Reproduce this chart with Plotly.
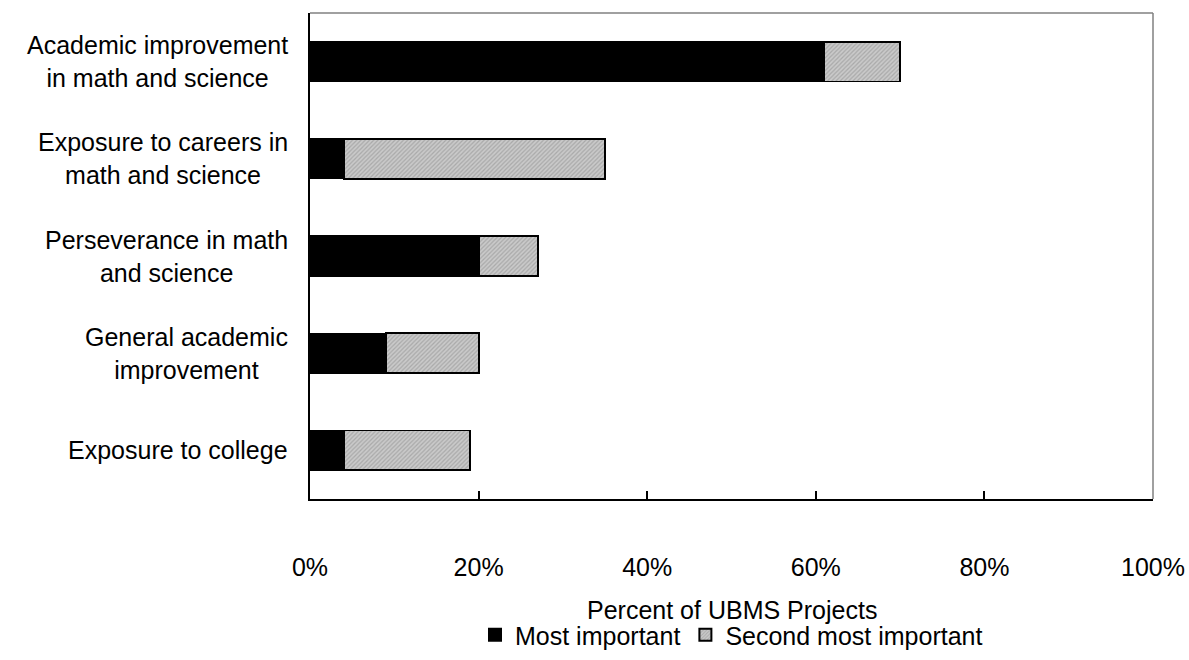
import plotly.graph_objects as go

categories = [
    "Academic improvement<br>in math and science",
    "Exposure to careers in<br>math and science",
    "Perseverance in math<br>and science",
    "General academic<br>improvement",
    "Exposure to college",
]
most_important = [61, 4, 20, 9, 4]
second_most = [9, 31, 7, 11, 15]
series_names = ["Most important", "Second most important"]
x_ticks = [0, 20, 40, 60, 80, 100]
x_tick_labels = ["0%", "20%", "40%", "60%", "80%", "100%"]

FONT = "Liberation Sans, Arial, sans-serif"
FS = 25

fig = go.Figure()
fig.add_trace(go.Bar(
    y=categories, x=most_important, orientation="h", name=series_names[0],
    marker=dict(color="black", line=dict(color="black", width=1.5)),
))
fig.add_trace(go.Bar(
    y=categories, x=second_most, orientation="h", name=series_names[1],
    marker=dict(color="#c4c4c4", line=dict(color="black", width=1.8),
                pattern=dict(shape="/", fgcolor="#a9a9a9", bgcolor="#cacaca",
                             size=3, solidity=0.4, fillmode="replace")),
))

for c in categories:
    fig.add_annotation(x=-0.024, xref="paper", y=c, yref="y", text=c,
                       xanchor="right", yanchor="middle", align="center",
                       showarrow=False, font=dict(family=FONT, size=FS, color="black"))

fig.add_annotation(x=0.5, xref="paper", y=-0.228, yref="paper",
                   text="Percent of UBMS Projects", showarrow=False,
                   xanchor="center", yanchor="middle",
                   font=dict(family=FONT, size=FS, color="black"))

# grey top and right border
fig.add_shape(type="line", xref="paper", yref="paper", x0=0, x1=1, y0=1, y1=1,
              line=dict(color="#808080", width=1.5))
fig.add_shape(type="line", xref="paper", yref="paper", x0=1, x1=1, y0=0, y1=1,
              line=dict(color="#808080", width=1.5))

fig.update_layout(
    width=1189, height=660,
    margin=dict(l=310, r=36, t=13, b=161, autoexpand=False),
    barmode="stack", bargap=0.59,
    plot_bgcolor="white", paper_bgcolor="white",
    font=dict(family=FONT, size=FS, color="black"),
    showlegend=True,
    legend=dict(orientation="h", x=0.5, xanchor="center", y=-0.28, yanchor="middle",
                font=dict(family=FONT, size=FS, color="black"),
                itemsizing="constant", traceorder="normal", itemwidth=30),
    xaxis=dict(range=[0, 100], tickvals=x_ticks, ticktext=x_tick_labels,
               ticks="inside", ticklen=8, tickwidth=1.5, tickcolor="black",
               showline=True, linecolor="black", linewidth=1.5, automargin=False,
               showgrid=False, zeroline=False, ticklabelstandoff=45,
               tickfont=dict(family=FONT, size=FS, color="black")),
    yaxis=dict(autorange="reversed", showticklabels=False, showline=True,
               linecolor="black", linewidth=1.5, showgrid=False, ticks=""),
)

fig.write_html("out.html", config={"displayModeBar": False, "responsive": False},
               post_script="document.body.style.margin='0px';document.body.style.overflow='hidden';")
